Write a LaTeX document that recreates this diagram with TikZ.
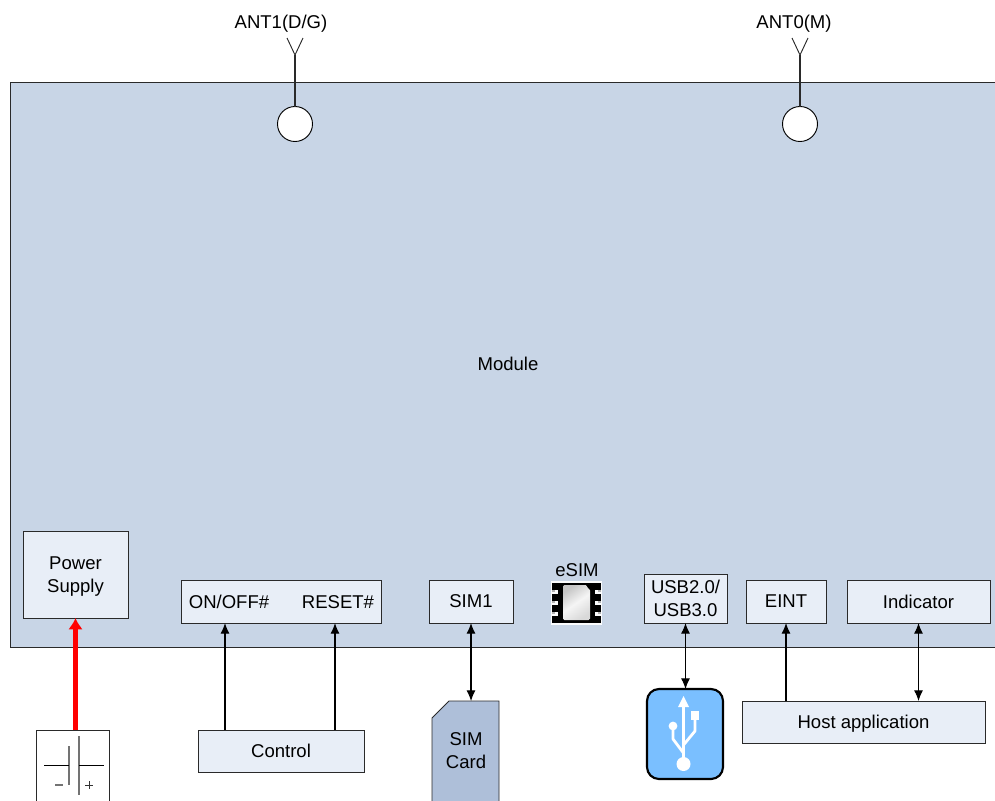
\documentclass[tikz,border=0pt]{standalone}
\usepackage{fontspec}
\setmainfont{Liberation Sans}
\usetikzlibrary{arrows.meta}
\definecolor{modfill}{HTML}{C8D5E6}
\definecolor{boxfill}{HTML}{E8EEF7}
\definecolor{simfill}{HTML}{AEBFD9}
\definecolor{usbfill}{HTML}{7ABFFF}
\definecolor{edge}{HTML}{2A2A2A}
\tikzset{
  every node/.style={outer sep=0pt},
  txt/.style={font=\fontsize{13.9pt}{17.2pt}\selectfont, align=center, inner sep=0, text=black},
  box/.style={txt, draw=edge, fill=boxfill, line width=0.7pt, minimum width=#1*0.75pt},
  box/.default=80,
  ln/.style={draw=edge, line width=0.8pt},
  arr/.style={draw=black, line width=0.8pt, -{Latex[length=8pt,width=6.8pt]}},
  darr/.style={draw=black, line width=0.8pt, {Latex[length=8pt,width=6.8pt]}-{Latex[length=8pt,width=6.8pt]}},
  redarr/.style={draw={rgb,255:red,255;green,0;blue,0}, line width=3.2pt, -{Latex[length=8.5pt,width=11pt]}},
  ant/.style={circle, draw=black, fill=white, line width=0.7pt, minimum size=26.25pt, inner sep=0},
  usbw/.style={draw=white, line width=2.1pt, line cap=round, line join=round},
}
\begin{document}
\begin{tikzpicture}[x=0.75pt,y=-0.75pt]
\useasboundingbox (0,0) rectangle (995,800);
\clip (0,0) rectangle (995,800);

% module
\node[draw=edge, fill=modfill, line width=0.7pt, minimum width=750pt, minimum height=423.75pt, inner sep=0, anchor=north west] (module) at (10,82) {};
\node[txt] (modlabel) at (508,364) {Module};

% antennas
\node[ant] (a1) at (295,124) {};
\node[ant] (a0) at (800,124) {};
\coordinate (a1tip) at (295,55);
\coordinate (a0tip) at (800,55);
\draw[ln] (a1) -- (a1tip);
\draw[ln] (a0) -- (a0tip);
\draw[ln, line width=0.7pt] (287,38) -- (a1tip) -- (303,38);
\draw[ln, line width=0.7pt] (792,38) -- (a0tip) -- (808,38);
\node[txt] (ant1) at (281,24) {ANT1(D/G)};
\node[txt] (ant0) at (794,24) {ANT0(M)};

% interface boxes
\node[box=105, minimum height=65.25pt, text depth=0pt] (power) at (75.5,574.5) {Power\\Supply};
\node[box=200, minimum height=32.25pt] (ctrlif) at (281,601.5) {};
\node[txt] (onoff) at (229,602) {ON/OFF\#};
\node[txt] (reset) at (338,602) {RESET\#};
\node[box=84, minimum height=32.25pt] (sim1) at (471,601.5) {SIM1};
\node[box=83, minimum height=36.75pt] (usbif) at (685.5,598.5) {USB2.0/\\USB3.0};
\node[box=80, minimum height=32.25pt] (eint) at (786,601.5) {EINT};
\node[box=143, minimum height=32.25pt] (indic) at (918.5,601.5) {Indicator};

% eSIM chip
\node[txt] (esimlabel) at (577,570) {eSIM};
\fill[white!92!modfill] (551,581) rectangle (602,625);
\fill[black] (558,583) rectangle (595,623);
\foreach \yy in {585,596,607,618}{
  \fill[black] (552,\yy-2) rectangle (558,\yy+5);
  \fill[black] (595,\yy-2) rectangle (601,\yy+5);
}
\foreach \yy in {589.5,600.5,611.5}{
  \fill[gray!60] (552,\yy) rectangle (555,\yy+2.5);
  \fill[gray!60] (598,\yy) rectangle (601,\yy+2.5);
}
\shade[left color=gray!45, right color=gray!30, middle color=gray!8, shading angle=35, rounded corners=1pt]
  (563,585) -- (587,585) -- (587,588) -- (590,589) -- (590,620) -- (563,620) -- cycle;

% host / control
\node[box=166, minimum height=31.5pt] (control) at (281,751) {Control};
\node[box=243, minimum height=31.5pt, text depth=0pt] (host) at (863.5,722) {Host application};

% battery
\node[draw=edge, fill=white, line width=0.7pt, minimum width=54.75pt, minimum height=90pt, inner sep=0, anchor=north west] (bat) at (36,730) {};
\draw[draw=gray!90!black, line width=1pt] (69,746) -- (69,785);
\draw[draw=gray!90!black, line width=1pt] (79,736) -- (79,795);
\draw[ln, draw=black] (44,765.5) -- (69,765.5);
\draw[ln, draw=black] (79,765.5) -- (104,765.5);
\draw[draw=gray!90!black, line width=1pt] (55,785) -- (63,785);
\draw[draw=black!80, line width=0.7pt] (85,785) -- (93,785) (89,781) -- (89,789);

% SIM card
\draw[draw=edge, fill=simfill, line width=0.7pt] (432,830) -- (432,718) -- (449,701) -- (499,701) -- (499,830) -- cycle;
\coordinate (simtop) at (471,701);
\node[txt] (simcard) at (466,750.5) {SIM\\Card};

% USB symbol
\node[draw=black, fill=usbfill, line width=1.6pt, rounded corners=9pt, minimum width=57pt, minimum height=67.5pt, inner sep=0, anchor=north west] (usb) at (647,689) {};
\draw[usbw] (683.5,704) -- (683.5,764);
\fill[white] (683.5,696) -- (689,707) -- (678,707) -- cycle;
\fill[white] (690.5,711) rectangle (698.5,720);
\draw[usbw] (695,720) -- (695,731) -- (683.5,745);
\fill[white] (673,726) circle[radius=4.4];
\draw[usbw] (673,726) -- (673,739) -- (683.5,753);
\fill[white] (683.5,764) circle[radius=7];

% connectors
\coordinate (xa) at (225,0);
\coordinate (xb) at (335,0);
\coordinate (xe) at (786,0);
\draw[redarr] (bat.north -| power) -- (power.south);
\draw[arr] (control.north -| xa) -- (ctrlif.south -| xa);
\draw[arr] (control.north -| xb) -- (ctrlif.south -| xb);
\draw[darr] (sim1.south) -- (simtop);
\draw[darr] (usbif.south) -- (usbif.south |- usb.north);
\draw[arr] (host.north -| xe) -- (eint.south);
\draw[darr] (indic.south) -- (indic.south |- host.north);
\end{tikzpicture}
\end{document}
